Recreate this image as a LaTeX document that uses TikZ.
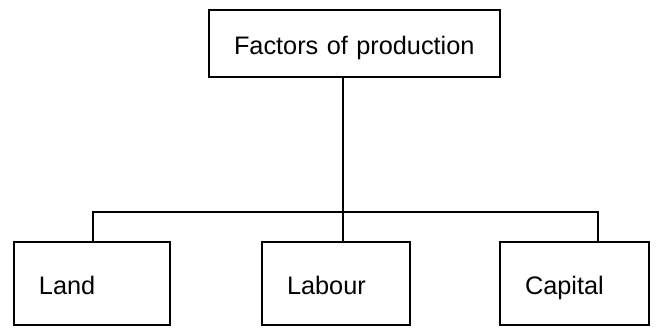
\documentclass[tikz,border=0pt]{standalone}
\usepackage{fontspec}
\setmainfont{Liberation Sans}
\usepackage{tikz}
\tikzset{
  bx/.style={rectangle,draw,minimum height=1.66cm,inner xsep=0.5cm,inner ysep=0pt,align=left,execute at begin node={\rule[-4.6pt]{0pt}{21.2pt}},font=\fontsize{14.4}{17}\selectfont},
  every picture/.style={line width=1.1pt},
}

\begin{document}
\begin{tikzpicture}
\useasboundingbox (0,0) rectangle (13.38,6.6);
\node[bx,text width=4.82cm,minimum height=1.34cm] (fp) at (7.09,5.73){Factors of production};
\node[bx,text width=2.12cm] (land) at (1.84,0.93){Land};
\node[bx,text width=1.96cm] (lab) at (6.72,0.93){Labour};
\node[bx,text width=1.98cm] (cap) at (11.49,0.93){Capital};
\coordinate (bl) at (1.86,2.36); \coordinate (bm) at (6.86,2.36); \coordinate (br) at (11.96,2.36);
\draw (bm |- fp.south)--(bm); \draw (bl |- land.north)--(bl)--(br)--(br |- cap.north);
\draw (bm)--(bm |- lab.north);
\end{tikzpicture}
\end{document}
